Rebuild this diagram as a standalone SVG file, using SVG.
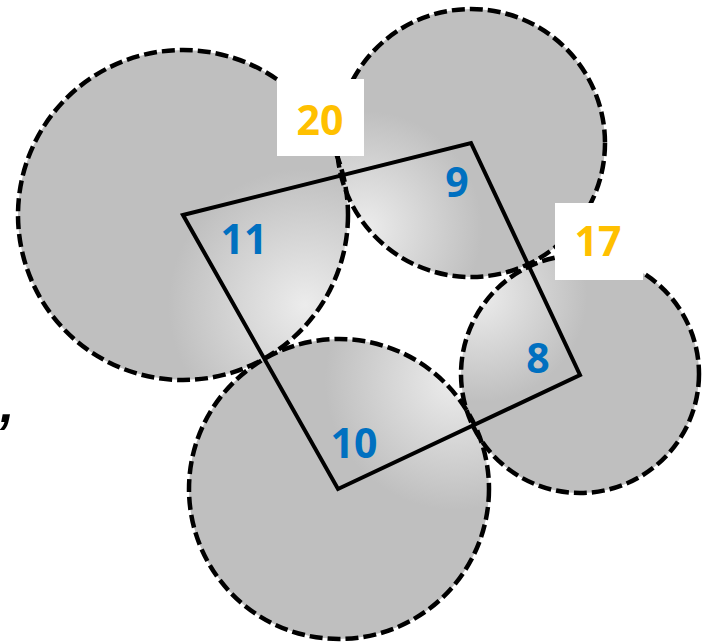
<svg xmlns="http://www.w3.org/2000/svg" width="712" height="643" viewBox="0 0 712 643">
<style>
.fill{stroke:none}
.ring{fill:none;stroke:#000;stroke-width:4.5;stroke-dasharray:13 5}
.edge{fill:none;stroke:#000;stroke-width:4;stroke-linejoin:miter}
.box{fill:#fff}
.blue{font-family:"Open Sans","Liberation Sans",sans-serif;font-weight:bold;font-size:41px;fill:#0070C0;text-anchor:middle}
.gold{font-family:"Open Sans","Liberation Sans",sans-serif;font-weight:bold;font-size:41px;fill:#FFC000;text-anchor:middle}
</style>
<defs>
<radialGradient id="g11" gradientUnits="userSpaceOnUse" cx="305" cy="305" r="210"><stop offset="0" stop-color="#ececec"/><stop offset="0.65" stop-color="#bfbfbf"/></radialGradient>
<radialGradient id="g9" gradientUnits="userSpaceOnUse" cx="365" cy="228" r="180"><stop offset="0" stop-color="#ececec"/><stop offset="0.65" stop-color="#bfbfbf"/></radialGradient>
<radialGradient id="g8" gradientUnits="userSpaceOnUse" cx="480" cy="295" r="165"><stop offset="0" stop-color="#ececec"/><stop offset="0.65" stop-color="#bfbfbf"/></radialGradient>
<radialGradient id="g10" gradientUnits="userSpaceOnUse" cx="455" cy="380" r="200"><stop offset="0" stop-color="#ececec"/><stop offset="0.65" stop-color="#bfbfbf"/></radialGradient>
</defs>
<g id="node-11"><circle class="fill" cx="183" cy="215" r="165" fill="url(#g11)"/></g>
<g id="node-9"><circle class="fill" cx="471" cy="143" r="134" fill="url(#g9)"/></g>
<g id="node-8"><circle class="fill" cx="580" cy="374" r="119" fill="url(#g8)"/></g>
<g id="node-10"><circle class="fill" cx="339" cy="489" r="150" fill="url(#g10)"/></g>
<g id="rings">
<circle class="ring" cx="183" cy="215" r="165"/>
<circle class="ring" cx="471" cy="143" r="134"/>
<circle class="ring" cx="580" cy="374" r="119"/>
<circle class="ring" cx="339" cy="489" r="150"/>
</g>
<g id="connectors">
<polygon class="edge" points="183,215 471,143 580,375 338,489"/>
</g>
<g id="labels">
<text class="blue" x="244" y="254">11</text>
<text class="blue" x="457" y="197">9</text>
<text class="blue" x="538" y="373">8</text>
<text class="blue" x="354" y="458">10</text>
</g>
<g id="weight-20"><rect class="box" x="277" y="79" width="87" height="77"/><text class="gold" x="320" y="135">20</text></g>
<g id="weight-17"><rect class="box" x="555" y="203" width="88" height="77"/><text class="gold" x="598" y="256">17</text></g>
<text x="0" y="422" font-family="Liberation Sans,sans-serif" font-size="52" font-weight="bold" font-style="italic">,</text>
</svg>
